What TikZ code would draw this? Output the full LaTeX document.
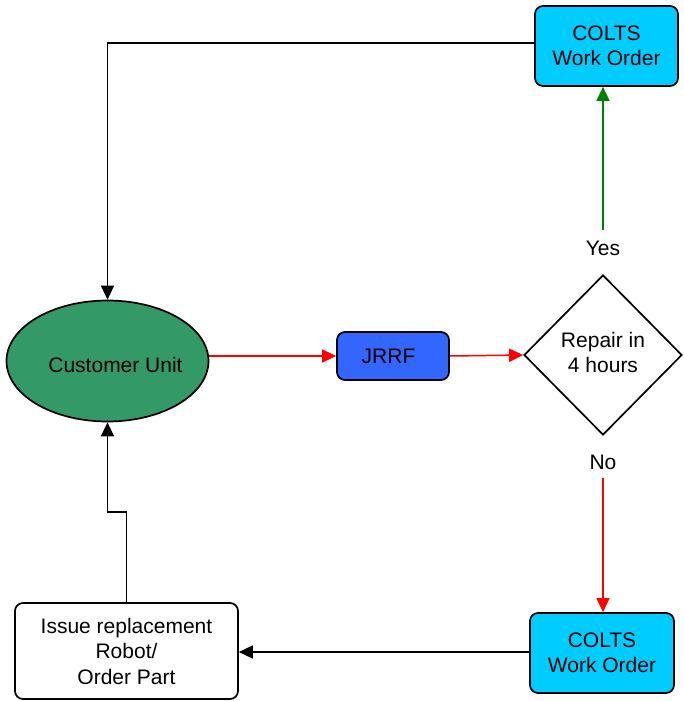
\documentclass[tikz,border=0pt]{standalone}
\usepackage{fontspec}
\setmainfont{Liberation Sans}
\usetikzlibrary{shapes.geometric,arrows.meta}
\definecolor{cugreen}{HTML}{339966}
\definecolor{jrrfblue}{HTML}{3366FF}
\definecolor{coltsblue}{HTML}{00CCFF}
\definecolor{yesgreen}{HTML}{008000}
\begin{document}
\begin{tikzpicture}[x=1pt,y=-1pt,
  every node/.style={font=\fontsize{21}{25.5}\selectfont, align=center},
  boxnode/.style={draw=black, line width=1.7pt, rounded corners=8pt, inner sep=0pt},
  conn/.style={line width=1.5pt, -{Triangle[length=14pt,width=13pt]}},
  lbl/.style={inner sep=2pt}
]
\useasboundingbox (0,0) rectangle (683,701);

\node[ellipse, draw=black, line width=1.7pt, fill=cugreen, minimum width=202pt, minimum height=121pt, inner sep=0pt,
      label={[xshift=8pt,yshift=-4pt]center:Customer Unit}] (cu) at (107.5,361) {};
\node[boxnode, fill=jrrfblue, minimum width=112pt, minimum height=48pt] (jrrf) at (393,356) {\hspace*{-9pt}JRRF};
\node[diamond, draw=black, line width=1.7pt, minimum width=158pt, minimum height=160pt, inner sep=0pt] (dia) at (603,355) {\raisebox{3pt}{\begin{tabular}{@{}c@{}}Repair in\\4 hours\end{tabular}}};
\node[boxnode, fill=coltsblue, minimum width=143pt, minimum height=80pt] (colts1) at (606.5,46) {COLTS\\Work Order};
\node[boxnode, fill=coltsblue, minimum width=144pt, minimum height=80pt] (colts2) at (602,653) {COLTS\\Work Order};
\node[boxnode, fill=white, minimum width=223pt, minimum height=96pt] (issue) at (126.5,651) {Issue replacement\\Robot/\\Order Part};
\node[lbl] (yes) at (603,248) {Yes};
\node[lbl] (no) at (603,462) {No};
\coordinate (jog) at (0,512);

\draw[conn] ([yshift=3pt]colts1.west) -| (cu.north);
\draw[conn, red] (jrrf.west -| cu.east) -- (jrrf.west);
\draw[conn, red] (jrrf.east) -- (dia.west);
\draw[conn, yesgreen, shorten <=8pt] (yes.north) -- (yes.north |- colts1.south);
\draw[conn, red, shorten <=6pt] (no.south) -- (no.south |- colts2.north);
\draw[conn] ([yshift=1pt]colts2.west) -- ([yshift=1pt]colts2.west -| issue.east);
\draw[conn] (issue.north) -- (issue.north |- jog) -- (cu.south |- jog) -- (cu.south);
\end{tikzpicture}
\end{document}
